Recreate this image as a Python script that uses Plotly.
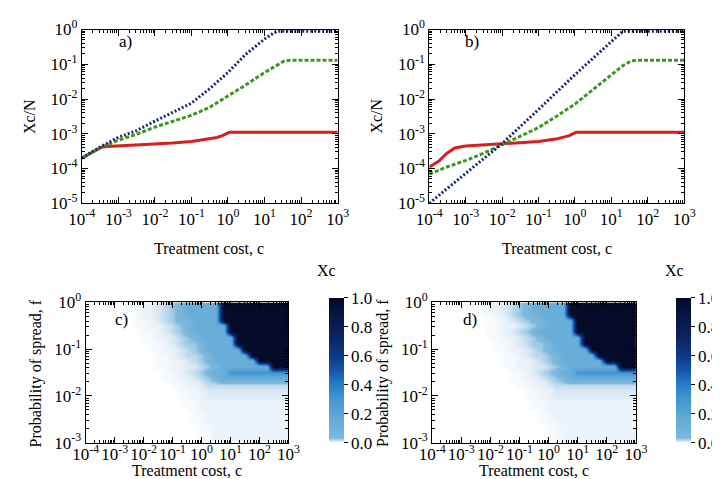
import plotly.graph_objects as go
import numpy as np

FONT = "Liberation Serif"
W, H = 720, 479

# ---------------- data: panels a) and b) (Xc/N vs treatment cost c) ----------------
a_red_c = [1e-4, 2e-4, 3.5e-4, 5e-4, 1e-3, 3e-3, 1e-2, 3e-2, 1e-1, 0.3, 0.5, 0.7, 0.9, 1.1, 10, 100, 1000]
a_red = [2.0e-4, 2.9e-4, 4.1e-4, 4.3e-4, 4.45e-4, 4.7e-4, 5.0e-4, 5.4e-4, 6.0e-4, 7.0e-4, 7.8e-4, 8.8e-4,
         1.0e-3, 1.1e-3, 1.1e-3, 1.1e-3, 1.1e-3]
a_green_c = [1e-4, 3e-4, 1e-3, 3e-3, 1e-2, 3e-2, 1e-1, 3e-1, 1, 3, 10, 20, 35, 50, 100, 1000]
a_green = [2.0e-4, 3.8e-4, 6.5e-4, 9.5e-4, 1.55e-3, 2.2e-3, 3.4e-3, 5.6e-3, 1.2e-2, 2.5e-2, 5.8e-2,
           9.0e-2, 1.25e-1, 1.3e-1, 1.3e-1, 1.3e-1]
a_blue_c = [1e-4, 3e-4, 1e-3, 3e-3, 1e-2, 3e-2, 1e-1, 3e-1, 1, 3, 10, 18, 24, 100, 1000]
a_blue = [2.0e-4, 4.0e-4, 7.9e-4, 1.2e-3, 2.3e-3, 4.0e-3, 7.6e-3, 1.9e-2, 5.8e-2, 1.9e-1, 5.3e-1,
          0.8, 0.9, 0.9, 0.9]

b_red_c = [1e-4, 1.8e-4, 3e-4, 5e-4, 1e-3, 3e-3, 1e-2, 3e-2, 1e-1, 0.3, 0.5, 0.7, 0.9, 1.1, 10, 100, 1000]
b_red = [1.1e-4, 1.6e-4, 2.7e-4, 3.9e-4, 4.4e-4, 4.7e-4, 5.0e-4, 5.4e-4, 6.0e-4, 7.0e-4, 7.8e-4, 8.8e-4,
         1.0e-3, 1.1e-3, 1.1e-3, 1.1e-3, 1.1e-3]
b_green_c = [1e-4, 3e-4, 1e-3, 3e-3, 1e-2, 3e-2, 1e-1, 3e-1, 1, 3, 10, 20, 35, 50, 1000]
b_green = [6.9e-5, 1.1e-4, 1.7e-4, 2.7e-4, 4.8e-4, 8.1e-4, 1.5e-3, 3.1e-3, 7.1e-3, 1.8e-2, 5.0e-2,
           8.9e-2, 1.25e-1, 1.3e-1, 1.3e-1]
b_blue_c = [1e-4, 1e-3, 1e-2, 1e-1, 1, 10, 21, 100, 1000]
b_blue = [1e-5, 7e-5, 5.2e-4, 5e-3, 5e-2, 0.45, 0.9, 0.9, 0.9]

# ---------------- data: heatmaps c) and d) ----------------
heat_log_c = [-4 + 0.25 * i for i in range(29)]          # log10 treatment cost, columns
heat_log_f = [-0.125 * j for j in range(25)]             # log10 probability of spread, rows (top -> bottom)
level_values = [0, 0.003, 0.007, 0.012, 0.018, 0.026, 0.045, 0.13, 0.3, 1.0]   # code digit -> Xc

heat_c_rows = [
    "00000011223456777779999999999",
    "00000011223456777779999999999",
    "00000001223456777779999999999",
    "00000001123456677779999999999",
    "00000001122345677777999999999",
    "00000000112345677777999999999",
    "00000000112234567777799999999",
    "00000000011234556777799999999",
    "00000000011223456777779999999",
    "00000000001123445677777999999",
    "00000000001122345677777799999",
    "00000000001122334567777777999",
    "00000000000112345677888888888",
    "00000000000112234567777777777",
    "00000000000011223444444444444",
    "00000000000001122333333333333",
    "00000000000001122333333333333",
    "00000000000000112222222222222",
    "00000000000000112222222222222",
    "00000000000000011222222222222",
    "00000000000000011222222222222",
    "00000000000000001122222222222",
    "00000000000000001122222222222",
    "00000000000000001122222222222",
    "00000000000000001122222222222",
]
heat_d_rows = [
    "00000001223456777779999999999",
    "00000001223456777779999999999",
    "00000001123456677779999999999",
    "00000000112345667777999999999",
    "00000000112234567777999999999",
    "00000000112345677777999999999",
    "00000000112234567777799999999",
    "00000000011234556777799999999",
    "00000000011223456777779999999",
    "00000000001123445677777999999",
    "00000000001122345677777799999",
    "00000000001122334567777777999",
    "00000000000112345677888888888",
    "00000000000112234567777777777",
    "00000000000011223444444444444",
    "00000000000001122333333333333",
    "00000000000001122333333333333",
    "00000000000000112222222222222",
    "00000000000000112222222222222",
    "00000000000000011222222222222",
    "00000000000000011222222222222",
    "00000000000000001122222222222",
    "00000000000000001122222222222",
    "00000000000000001122222222222",
    "00000000000000001122222222222",
]

decade_vals_x = [1e-4, 1e-3, 1e-2, 1e-1, 1, 10, 100, 1000]
decade_labels_x = ["10<sup>-4</sup>", "10<sup>-3</sup>", "10<sup>-2</sup>", "10<sup>-1</sup>",
                   "10<sup>0</sup>", "10<sup>1</sup>", "10<sup>2</sup>", "10<sup>3</sup>"]
decade_vals_y = [1e-5, 1e-4, 1e-3, 1e-2, 1e-1, 1]
decade_labels_y = ["10<sup>-5</sup>", "10<sup>-4</sup>", "10<sup>-3</sup>", "10<sup>-2</sup>",
                   "10<sup>-1</sup>", "10<sup>0</sup>"]
heat_x_vals = [-4, -3, -2, -1, 0, 1, 2, 3]
heat_y_vals = [-3, -2, -1, 0]
heat_y_labels = ["10<sup>-3</sup>", "10<sup>-2</sup>", "10<sup>-1</sup>", "10<sup>0</sup>"]
cb_vals = [0, 0.2, 0.4, 0.6, 0.8, 1.0]
cb_labels = ["0.0", "0.2", "0.4", "0.6", "0.8", "1.0"]


def decode(rows):
    z = []
    for r in rows:
        assert len(r) == len(heat_log_c), (r, len(r))
        z.append([level_values[int(ch)] for ch in r])
    return z


def px(x):
    return x / W


def py(y):
    return 1 - y / H


TICKFONT = dict(family=FONT, size=17, color="black")
RED, GREEN, BLUE = "#d91e1e", "#3a9922", "#1c2a70"

fig = go.Figure()

for (xa, ya, series) in [
    ("x", "y", [(a_red_c, a_red, RED, "solid"), (a_green_c, a_green, GREEN, "4px,2px"),
                (a_blue_c, a_blue, BLUE, "2px,2px")]),
    ("x2", "y2", [(b_red_c, b_red, RED, "solid"), (b_green_c, b_green, GREEN, "4px,2px"),
                  (b_blue_c, b_blue, BLUE, "2px,2px")]),
]:
    for cx, cy, col, dash in series:
        fig.add_trace(go.Scatter(x=cx, y=cy, mode="lines", xaxis=xa, yaxis=ya,
                                 line=dict(color=col, width=3, dash=dash), showlegend=False,
                                 hoverinfo="skip"))

colorscale = [
    [0.0, "#ffffff"], [0.004, "#f3f8fc"], [0.012, "#dbeaf5"], [0.02, "#b4d5ec"],
    [0.035, "#7db8dc"], [0.2, "#5ba6d6"], [0.32, "#3d93d2"], [0.42, "#2478c8"],
    [0.5, "#1555a8"], [0.6, "#0d3a86"], [0.75, "#09225e"], [0.9, "#061540"], [1.0, "#040a28"],
]

for xa, ya, rows, cbx in [("x3", "y3", heat_c_rows, 319), ("x4", "y4", heat_d_rows, 679)]:
    z = decode(rows)
    fig.add_trace(go.Heatmap(
        x=heat_log_c, y=heat_log_f[::-1], z=z[::-1], xaxis=xa, yaxis=ya,
        zmin=0, zmax=1, zsmooth="best", colorscale=colorscale, hoverinfo="skip",
        colorbar=dict(x=px(cbx), xanchor="left", y=py(443), yanchor="bottom",
                      len=(443 - 291) / H, lenmode="fraction", thickness=15, thicknessmode="pixels",
                      xpad=0, ypad=0, outlinewidth=0, tickmode="array", tickvals=cb_vals,
                      ticktext=cb_labels, ticks="outside", ticklen=4, tickcolor="black",
                      tickfont=TICKFONT),
    ))

common = dict(showline=True, linecolor="black", linewidth=1, mirror="allticks", ticks="inside",
              ticklen=6, tickwidth=1, tickcolor="black", showgrid=False, zeroline=False,
              tickfont=TICKFONT, tickmode="array")

log_minor_x = [k * 10.0 ** n for n in range(-4, 3) for k in range(2, 10)]
log_minor_y = [k * 10.0 ** n for n in range(-5, 0) for k in range(2, 10)]
lin_minor_x = [n + np.log10(k) for n in range(-4, 3) for k in range(2, 10)]
lin_minor_y = [n + np.log10(k) for n in range(-3, 0) for k in range(2, 10)]
minor_style = dict(ticks="inside", ticklen=3, tickcolor="black", tickwidth=1, showgrid=False)

top_y_dom = [py(192), py(10)]
bot_y_dom = [py(443), py(296)]

fig.update_layout(
    width=W, height=H, margin=dict(l=0, r=0, t=0, b=0),
    paper_bgcolor="white", plot_bgcolor="white", showlegend=False,
    xaxis=dict(domain=[px(63), px(328)], anchor="y", type="log", range=[-4, 3],
               tickvals=decade_vals_x, ticktext=decade_labels_x,
               minor=dict(tickvals=log_minor_x, **minor_style), **common),
    yaxis=dict(domain=top_y_dom, anchor="x", type="log", range=[-5, 0],
               tickvals=decade_vals_y, ticktext=decade_labels_y,
               minor=dict(tickvals=log_minor_y, **minor_style), **common),
    xaxis2=dict(domain=[px(423), px(687)], anchor="y2", type="log", range=[-4, 3],
                tickvals=decade_vals_x, ticktext=decade_labels_x,
                minor=dict(tickvals=log_minor_x, **minor_style), **common),
    yaxis2=dict(domain=top_y_dom, anchor="x2", type="log", range=[-5, 0],
                tickvals=decade_vals_y, ticktext=decade_labels_y,
                minor=dict(tickvals=log_minor_y, **minor_style), **common),
    xaxis3=dict(domain=[px(67), px(277)], anchor="y3", range=[-4, 3],
                tickvals=heat_x_vals, ticktext=decade_labels_x,
                minor=dict(tickvals=lin_minor_x, **minor_style), **common),
    yaxis3=dict(domain=bot_y_dom, anchor="x3", range=[-3, 0],
                tickvals=heat_y_vals, ticktext=heat_y_labels,
                minor=dict(tickvals=lin_minor_y, **minor_style), **common),
    xaxis4=dict(domain=[px(426), px(637)], anchor="y4", range=[-4, 3],
                tickvals=heat_x_vals, ticktext=decade_labels_x,
                minor=dict(tickvals=lin_minor_x, **minor_style), **common),
    yaxis4=dict(domain=bot_y_dom, anchor="x4", range=[-3, 0],
                tickvals=heat_y_vals, ticktext=heat_y_labels,
                minor=dict(tickvals=lin_minor_y, **minor_style), **common),
)

try:
    fig.update_layout(xaxis3=dict(ticklabelstandoff=-4), xaxis4=dict(ticklabelstandoff=-4))
except Exception:
    pass

LABFONT = dict(family=FONT, size=16, color="black")
annots = [
    # panel letters
    ("a)", 108, 23, 0), ("b)", 467, 23, 0), ("c)", 104, 314, 0), ("d)", 465, 314, 0),
    # axis titles
    ("Xc/N", 9, 101, -90), ("Xc/N", 368, 101, -90),
    ("Treatment cost, c", 195, 239, 0), ("Treatment cost, c", 555, 239, 0),
    ("Probability of spread, f", 16, 370, -90), ("Probability of spread, f", 375, 370, -90),
    ("Treatment cost, c", 172, 472, 0), ("Treatment cost, c", 531, 472, 0),
    ("Xc", 317, 263, 0), ("Xc", 677, 263, 0),
]
for text, x, y, ang in annots:
    fig.add_annotation(text=text, x=px(x), y=py(y), xref="paper", yref="paper",
                       xanchor="center", yanchor="middle", showarrow=False, textangle=ang,
                       font=dict(LABFONT, size=17) if text.endswith(")") else LABFONT)

fig.write_html("out.html")
